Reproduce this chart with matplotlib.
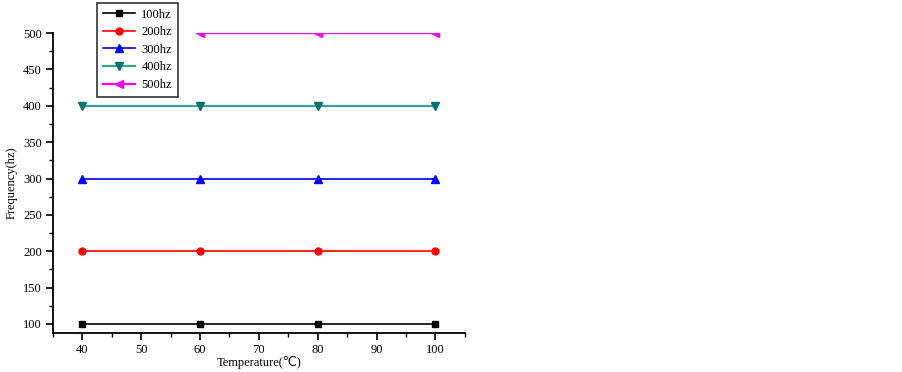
import numpy as np
import matplotlib.pyplot as plt
from matplotlib.ticker import MultipleLocator

# data
temps = [40, 60, 80, 100]
temps_500 = [60, 80, 100]
f100 = [100, 100, 100, 100]
f200 = [200, 200, 200, 200]
f300 = [300, 300, 300, 300]
f400 = [400, 400, 400, 400]
f500 = [500, 500, 500]

plt.rcParams['font.family'] = ['Liberation Serif', 'DejaVu Sans']
plt.rcParams['font.size'] = 9

fig = plt.figure(figsize=(9.03, 3.72), dpi=100)
ax = fig.add_axes([0.0587, 0.105, 0.456, 0.806])

ax.plot(temps, f100, color='black', marker='s', markersize=5, lw=1.2, label='100hz')
ax.plot(temps, f200, color='red', marker='o', markersize=5, lw=1.2, label='200hz')
ax.plot(temps, f300, color='blue', marker='^', markersize=6, lw=1.2, label='300hz')
ax.plot(temps, f400, color='#3a9e9a', marker='v', markersize=6, lw=1.6,
        markerfacecolor='#00736e', markeredgecolor='#00736e', label='400hz')
ax.plot(temps_500, f500, color='#ff00ff', marker='<', markersize=6, lw=1.6, label='500hz')

ax.set_xlim(35, 105)
ax.set_ylim(87.6, 500)
ax.xaxis.set_minor_locator(MultipleLocator(5))
ax.yaxis.set_minor_locator(MultipleLocator(25))
ax.set_xticks(np.arange(40, 101, 10))
ax.set_yticks(np.arange(100, 501, 50))
ax.tick_params(which='major', direction='out', length=5, width=1.2, pad=3)
ax.tick_params(which='minor', direction='out', length=3, width=1.0)

for s in ['top', 'right']:
    ax.spines[s].set_visible(False)
for s in ['left', 'bottom']:
    ax.spines[s].set_linewidth(1.3)

ax.set_xlabel('Temperature(℃)', labelpad=0)
ax.set_ylabel('Frequency(hz)', labelpad=4)

leg = ax.legend(loc='upper left', bbox_to_anchor=(0.1074, 0.992),
                bbox_transform=fig.transFigure, borderaxespad=0, fancybox=False,
                edgecolor='black', handlelength=2.6, borderpad=0.45,
                labelspacing=0.45, handletextpad=0.5, fontsize=9)
leg.get_frame().set_linewidth(1.2)

plt.savefig('out.png', dpi=100)
